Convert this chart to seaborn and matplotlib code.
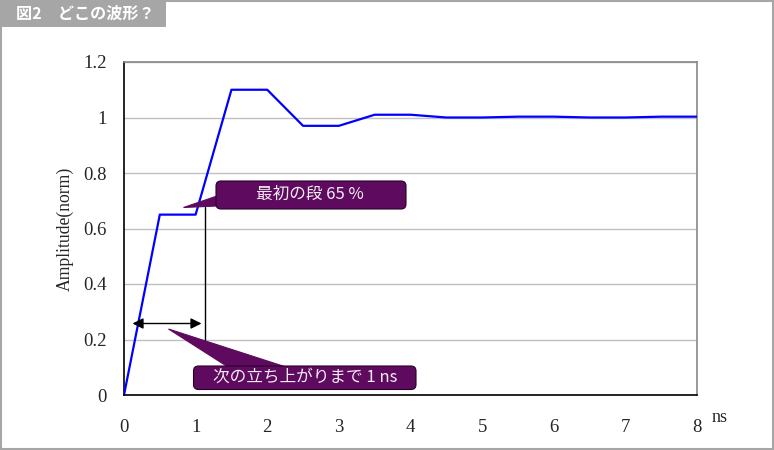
import matplotlib
matplotlib.use("Agg")
import matplotlib.pyplot as plt
import matplotlib.transforms as mtransforms
from matplotlib.patches import FancyBboxPatch, Polygon, Rectangle
import numpy as np
import pandas as pd
import seaborn as sns

# ---- data ----
time_ns = [0.0, 0.5, 1.0, 1.5, 2.0, 2.5, 3.0, 3.5, 4.0, 4.5, 5.0, 5.5, 6.0, 6.5, 7.0, 7.5, 8.0]
amplitude = [0.0, 0.65, 0.65, 1.10, 1.10, 0.97, 0.97, 1.01, 1.01, 1.0, 1.0, 1.003, 1.003, 1.0, 1.0, 1.003, 1.003]
x_ticks = [0, 1, 2, 3, 4, 5, 6, 7, 8]
y_ticks = [0, 0.2, 0.4, 0.6, 0.8, 1.0, 1.2]
y_tick_labels = ["0", "0.2", "0.4", "0.6", "0.8", "1", "1.2"]
title_text = "図2　どこの波形？"
callout1_text = "最初の段 65 %"
callout2_text = "次の立ち上がりまで 1 ns"
y_label = "Amplitude(norm)"
x_unit = "ns"

df = pd.DataFrame({"t": time_ns, "a": amplitude})

sns.set_style("white")
plt.rcParams['font.family'] = ['Liberation Serif', 'DejaVu Serif']

W, H = 774, 450
fig = plt.figure(figsize=(W / 100, H / 100), dpi=100)
ax = fig.add_axes([124 / W, 1 - 395 / H, 573 / W, 333 / H])

sns.lineplot(data=df, x="t", y="a", ax=ax, color="#0000ff", linewidth=1.6, zorder=3)

ax.set_xlim(0, 8)
ax.set_ylim(0, 1.2)
ax.set_xticks(x_ticks)
ax.set_xticklabels([str(v) for v in x_ticks], fontsize=13.5)
ax.set_yticks(y_ticks)
ax.set_yticklabels(y_tick_labels, fontsize=13.5)
ax.tick_params(axis="x", direction="in", length=5, width=1, color="black", pad=17.5)
ax.tick_params(axis="y", length=0, pad=12.5)
ax.yaxis.grid(True, color="#c0c0c0", linewidth=1)
ax.xaxis.grid(False)
ax.set_axisbelow(True)
ax.set_xlabel("")
ax.set_ylabel(y_label, fontsize=12.7, labelpad=7)
for s in ["left", "bottom"]:
    ax.spines[s].set_color("black")
    ax.spines[s].set_linewidth(1.2)
for s in ["top", "right"]:
    ax.spines[s].set_color("#888888")
    ax.spines[s].set_linewidth(1.2)
ax.spines["bottom"].set_zorder(4)

# pixel transform (top-left origin)
px = mtransforms.Affine2D().scale(1 / W, -1 / H).translate(0, 1) + fig.transFigure

fig.text(720 / W, 1 - 417 / H, x_unit, fontsize=13, ha="center", va="center")

# outer border
fig.patches.append(Rectangle((0.5, 0.5), W - 1.5, H - 1.5, transform=px, fill=False,
                             edgecolor="#a6a6a6", linewidth=1.5, zorder=0))
# title bar
fig.patches.append(Rectangle((0, 0), 166, 26.5, transform=px, facecolor="#a6a6a6",
                             edgecolor="none", zorder=1))
fig.text(16 / W, 1 - 13.5 / H, title_text, transform=fig.transFigure, fontsize=11.6,
         fontweight="bold", color="white", ha="left", va="center",
         family=['Noto Sans CJK JP', 'DejaVu Sans'])

purple = "#5e0a5e"

# vertical marker line and double arrow
fig.lines.append(plt.Line2D([204.5, 204.5], [207, 340], transform=px, color="black", linewidth=1))
ax.annotate("", xy=(201.5, 323.5), xytext=(132.5, 323.5), xycoords=px, textcoords=px,
            arrowprops=dict(arrowstyle="<|-|>", color="black", lw=1, mutation_scale=16,
                            shrinkA=0, shrinkB=0), zorder=5)

# callout 1
fig.patches.append(Polygon([(183.5, 207.5), (217, 196), (217, 206)], closed=True, transform=px,
                           facecolor=purple, edgecolor=purple, linewidth=0.8, zorder=6))
fig.patches.append(FancyBboxPatch((216, 181), 190, 28, boxstyle="round,pad=0,rounding_size=5",
                                  transform=px, facecolor=purple, edgecolor="#2a002a",
                                  linewidth=0.8, zorder=6))
fig.text(310 / W, 1 - 194 / H, callout1_text, fontsize=12, color="#f4eef4", ha="center",
         va="center", family=['Noto Sans CJK JP', 'DejaVu Sans'], zorder=7)

# callout 2
fig.patches.append(Polygon([(168.5, 329), (228, 367), (286, 367)], closed=True, transform=px,
                           facecolor=purple, edgecolor=purple, linewidth=0.8, zorder=6))
fig.patches.append(FancyBboxPatch((193.5, 366), 222.5, 23.5, boxstyle="round,pad=0,rounding_size=5",
                                  transform=px, facecolor=purple, edgecolor="#2a002a",
                                  linewidth=0.8, zorder=6))
fig.text(305 / W, 1 - 377 / H, callout2_text, fontsize=12, color="#f4eef4", ha="center",
         va="center", family=['Noto Sans CJK JP', 'DejaVu Sans'], zorder=7)

fig.savefig("out.png", dpi=100)
